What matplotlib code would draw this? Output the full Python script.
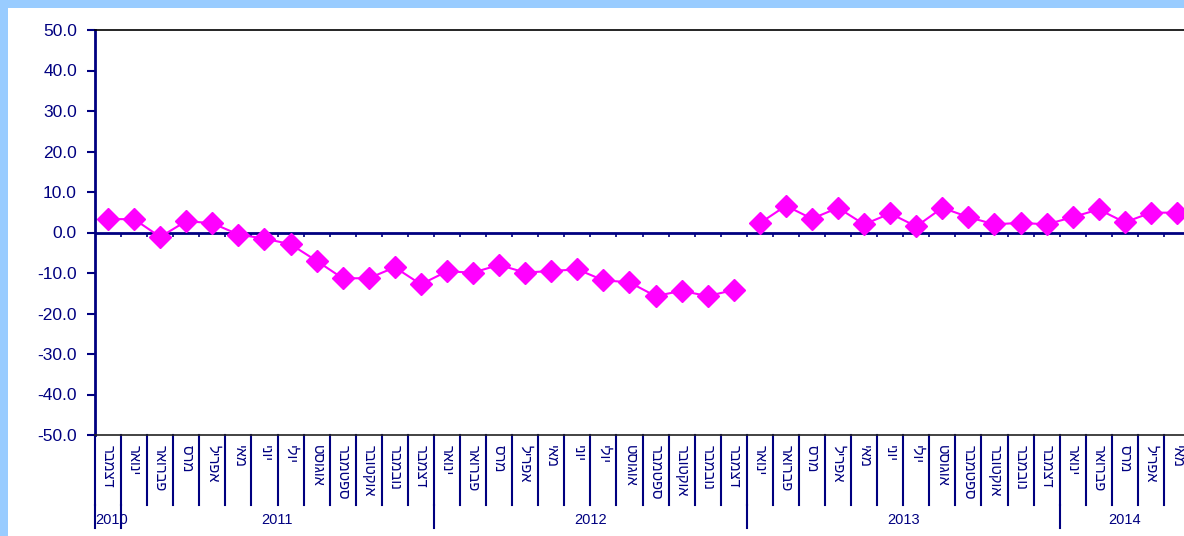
import matplotlib
matplotlib.use("Agg")
import matplotlib.pyplot as plt
from matplotlib.patches import Rectangle
from matplotlib.lines import Line2D

plt.rcParams['font.family'] = ['Liberation Sans', 'DejaVu Sans']

months = ["דצמבר",
          "ינואר", "פברואר", "מרס", "אפריל", "מאי", "יוני", "יולי", "אוגוסט", "ספטמבר", "אוקטובר", "נובמבר", "דצמבר",
          "ינואר", "פברואר", "מרס", "אפריל", "מאי", "יוני", "יולי", "אוגוסט", "ספטמבר", "אוקטובר", "נובמבר", "דצמבר",
          "ינואר", "פברואר", "מרס", "אפריל", "מאי", "יוני", "יולי", "אוגוסט", "ספטמבר", "אוקטובר", "נובמבר", "דצמבר",
          "ינואר", "פברואר", "מרס", "אפריל", "מאי"]
years = ["2010", "2011", "2012", "2013", "2014"]
year_counts = [1, 12, 12, 12, 5]

series1 = [3.3, 3.3, -1.1, 2.8, 2.3, -0.5, -1.5, -2.9, -7.0, -11.3, -11.3, -8.6, -12.8,
           -9.6, -9.9, -8.0, -9.9, -9.5, -9.1, -11.8, -12.3, -15.7, -14.4, -15.7, -14.2]
series2 = [2.3, 6.6, 3.4, 6.1, 2.0, 4.7, 1.5, 6.1, 3.8, 2.0, 2.4, 2.0,
           3.8, 5.7, 2.5, 4.9, 4.9]

W, H = 1184, 536
fig = plt.figure(figsize=(W / 100, H / 100), dpi=100)
fig.patch.set_facecolor('#99CCFF')
bg = Rectangle((8 / W, 0), 1, 1 - 8 / H, transform=fig.transFigure,
               facecolor='white', edgecolor='none', zorder=-10)
fig.patches.append(bg)

navy = '#000080'
left_px, right_px, top_px, bot_px = 95, 1190, 30, 435
ax = fig.add_axes([left_px / W, (H - bot_px) / H, (right_px - left_px) / W, (bot_px - top_px) / H])
ax.set_zorder(1)
ax.set_facecolor('white')

n = len(months)
ax.set_xlim(-0.5, n - 0.5)
ax.set_ylim(-50, 50)

x1 = list(range(len(series1)))
x2 = list(range(len(series1), len(series1) + len(series2)))

ax.axhline(0, color=navy, lw=2, zorder=2)
bounds = [i + 0.5 for i in range(n)]
ax.vlines(bounds, -1.0, 0, color=navy, lw=1.2, zorder=2)

ax.plot(x1, series1, color='#FF00FF', lw=1.5, marker='D', markersize=11, zorder=3, clip_on=False)
ax.plot(x2, series2, color='#FF00FF', lw=1.5, marker='D', markersize=11, zorder=3, clip_on=False)

ax.set_yticks(range(-50, 51, 10))
ax.set_yticklabels([f"{v:.1f}" for v in range(-50, 51, 10)])
ax.tick_params(axis='y', colors=navy, labelcolor=navy, labelsize=12.5, direction='out', length=6, width=1.5, pad=7)
ax.set_xticks([])

ax.spines['right'].set_visible(False)
ax.spines['left'].set_color(navy)
ax.spines['left'].set_linewidth(2)
ax.spines['top'].set_color('black')
ax.spines['top'].set_linewidth(1.2)
ax.spines['bottom'].set_color('#222222')
ax.spines['bottom'].set_linewidth(1.2)

plot_h = bot_px - top_px
tr = ax.get_xaxis_transform()
for i, m in enumerate(months):
    ax.text(i, -10 / plot_h, m[::-1], transform=tr, rotation=-90, ha='center', va='top',
            fontsize=10.5, color=navy, clip_on=False)
for b in [-0.5] + bounds:
    ax.add_line(Line2D([b, b], [0, -70 / plot_h], transform=tr, color=navy, lw=1.5, clip_on=False))
start = 0
ybounds = [-0.5]
for cnt in year_counts:
    start += cnt
    ybounds.append(start - 0.5)
for b in ybounds:
    ax.add_line(Line2D([b, b], [-70 / plot_h, -93 / plot_h], transform=tr, color=navy, lw=1.5, clip_on=False))
for k, y in enumerate(years):
    a, b = ybounds[k], ybounds[k + 1]
    c = (a + b) / 2
    if year_counts[k] == 1:
        ax.text(a, -85 / plot_h, y, transform=tr, ha='left', va='center', fontsize=10.5, color=navy, clip_on=False)
    else:
        ax.text(c, -85 / plot_h, y, transform=tr, ha='center', va='center', fontsize=10.5, color=navy, clip_on=False)

fig.savefig("out.png", dpi=100, facecolor=fig.get_facecolor())
